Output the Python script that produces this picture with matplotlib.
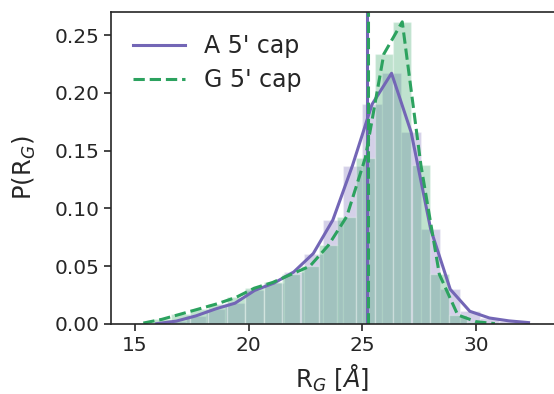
import numpy as np
import matplotlib
matplotlib.use('Agg')
import matplotlib.pyplot as plt

# bin centres and normalised counts
a_centers = [15.96, 16.82, 17.68, 18.54, 19.40, 20.26, 21.12, 21.98, 22.84, 23.70,
             24.56, 25.42, 26.28, 27.14, 28.00, 28.86, 29.72, 30.58, 31.44, 32.30]
a_prob = [0.0003, 0.0025, 0.007, 0.013, 0.018, 0.029, 0.0355, 0.045, 0.061, 0.090,
          0.137, 0.190, 0.217, 0.166, 0.082, 0.030, 0.011, 0.0052, 0.0027, 0.0012]

g_centers = [15.37, 16.18, 17.00, 17.81, 18.62, 19.44, 20.25, 21.06, 21.87, 22.69,
             23.50, 24.31, 25.13, 25.94, 26.75, 27.57, 28.38, 29.19, 30.00, 30.82]
g_prob = [0.0008, 0.004, 0.0085, 0.013, 0.0175, 0.023, 0.031, 0.036, 0.043, 0.050,
          0.068, 0.093, 0.144, 0.2336, 0.2615, 0.1375, 0.043, 0.0078, 0.002, 0.0003]

a_mean = 25.20
g_mean = 25.24

PURPLE = '#7366b6'
GREEN = '#2ca25f'

plt.rcParams['font.family'] = ['DejaVu Sans']
plt.rcParams['text.color'] = '#262626'
plt.rcParams['axes.labelcolor'] = '#262626'
plt.rcParams['xtick.color'] = '#262626'
plt.rcParams['ytick.color'] = '#262626'

fig = plt.figure(figsize=(5.54, 3.94), dpi=100)
ax = fig.add_axes([0.2004, 0.1777, 0.7996, 0.7918])

series = [
    (a_centers, a_prob, a_mean, PURPLE, '-', "A 5' cap"),
    (g_centers, g_prob, g_mean, GREEN, '--', "G 5' cap"),
]
for centers, prob, mean, color, ls, label in series:
    centers = np.array(centers)
    width = np.diff(centers).mean()
    ax.bar(centers, prob, width=width, color=color, alpha=0.3,
           edgecolor='white', linewidth=1.0)
for centers, prob, mean, color, ls, label in series:
    ax.plot(centers, prob, color=color, linestyle=ls, linewidth=2.2, label=label)
    ax.axvline(mean, color=color, linestyle=ls, linewidth=2.2)

ax.set_xlim(13.95, 33.42)
ax.set_ylim(0, 0.27)
ax.set_xticks([15, 20, 25, 30])
ax.set_yticks([0.0, 0.05, 0.10, 0.15, 0.20, 0.25])
ax.yaxis.set_major_formatter(matplotlib.ticker.FormatStrFormatter('%.2f'))
ax.set_xlabel(r'R$_G$ [$\AA$]', fontsize=17.5, labelpad=6)
ax.set_ylabel(r'P(R$_G$)', fontsize=17.5, labelpad=12)
ax.tick_params(direction='out', length=5, width=1.2, labelsize=14.5)
for side in ['left', 'bottom', 'top']:
    ax.spines[side].set_color('#262626')
    ax.spines[side].set_linewidth(1.2)
ax.spines['right'].set_visible(False)

ax.legend(loc='upper left', frameon=False, handlelength=2.2, fontsize=17,
          handletextpad=0.8, borderaxespad=0.55, labelspacing=0.4)

fig.savefig('out.png', dpi=100, facecolor='white')
